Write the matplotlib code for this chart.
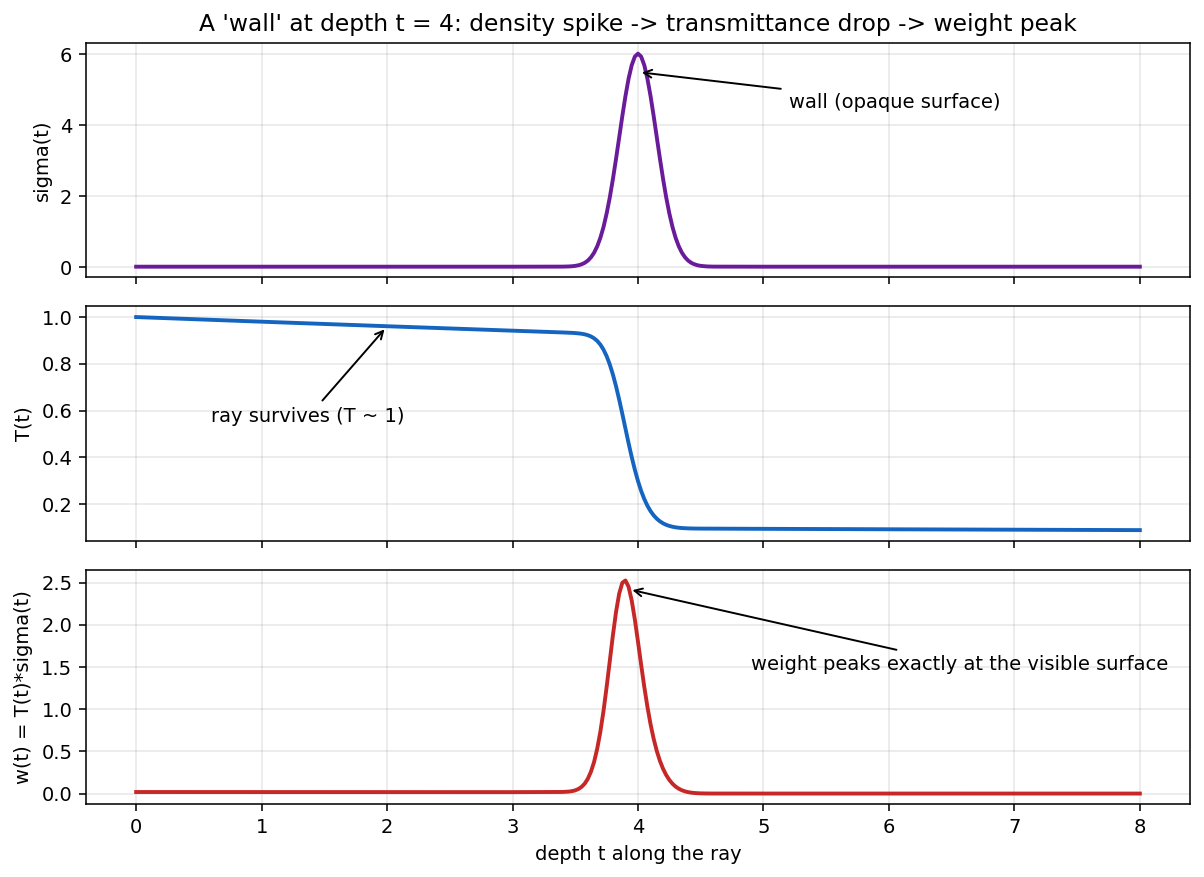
import matplotlib
matplotlib.use("Agg")
import matplotlib.pyplot as plt

# depth samples along the ray (dense around the wall at t = 4)
t = [0, 1, 2, 3, 3.4, 3.45, 3.475, 3.5, 3.525, 3.55, 3.575, 3.6, 3.625, 3.65,
     3.675, 3.7, 3.725, 3.75, 3.775, 3.8, 3.825, 3.85, 3.875, 3.9, 3.925,
     3.95, 3.975, 4.0, 4.025, 4.05, 4.075, 4.1, 4.125, 4.15, 4.175, 4.2,
     4.225, 4.25, 4.275, 4.3, 4.325, 4.35, 4.375, 4.4, 4.425, 4.45, 4.475,
     4.5, 4.55, 4.6, 5, 6, 7, 8]

# density sigma(t)
sigma = [0.02, 0.02, 0.02, 0.02, 0.022, 0.027, 0.033, 0.043, 0.060, 0.087,
         0.128, 0.191, 0.284, 0.414, 0.594, 0.832, 1.137, 1.517, 1.968, 2.487,
         3.058, 3.659, 4.260, 4.824, 5.315, 5.696, 5.937, 6.02, 5.937, 5.696,
         5.315, 4.824, 4.260, 3.659, 3.058, 2.487, 1.968, 1.517, 1.137, 0.832,
         0.594, 0.414, 0.284, 0.191, 0.128, 0.087, 0.060, 0.043, 0.027, 0.022,
         0.02, 0.02, 0.02, 0.02]

# transmittance T(t)
trans = [1.0, 0.9802, 0.9608, 0.9418, 0.9342, 0.9330, 0.9324, 0.9315, 0.9303,
         0.9287, 0.9262, 0.9225, 0.9171, 0.9092, 0.8980, 0.8822, 0.8609,
         0.8329, 0.7975, 0.7544, 0.7040, 0.6473, 0.5863, 0.5233, 0.4609,
         0.4015, 0.3471, 0.2988, 0.2572, 0.2223, 0.1937, 0.1706, 0.1523,
         0.1379, 0.1268, 0.1183, 0.1119, 0.1072, 0.1037, 0.1012, 0.0994,
         0.0982, 0.0974, 0.0968, 0.0964, 0.0961, 0.0960, 0.0958, 0.0957,
         0.0956, 0.0948, 0.0929, 0.0911, 0.0893]

# weight w(t)
weight = [0.02, 0.0196, 0.0192, 0.0188, 0.0206, 0.0252, 0.0308, 0.0401, 0.0558,
          0.0808, 0.1185, 0.1762, 0.2605, 0.3764, 0.5334, 0.7340, 0.9788,
          1.2635, 1.5696, 1.8762, 2.1527, 2.3685, 2.4975, 2.5244, 2.4497,
          2.2869, 2.0606, 1.7988, 1.5272, 1.2662, 1.0295, 0.8230, 0.6487,
          0.5046, 0.3878, 0.2942, 0.2203, 0.1626, 0.1179, 0.0842, 0.0591,
          0.0407, 0.0276, 0.0185, 0.0123, 0.0084, 0.0058, 0.0041, 0.0026,
          0.0021, 0.0019, 0.0019, 0.0018, 0.0018]

fig, axes = plt.subplots(3, 1, sharex=True, figsize=(1204 / 140, 877 / 140), dpi=140)
fig.subplots_adjust(left=0.0714, right=0.9884, top=0.951, bottom=0.083, hspace=0.124)

ax = axes[0]
ax.plot(t, sigma, color='#6a1b9a', lw=2)
ax.set_ylabel('sigma(t)')
ax.set_yticks([0, 2, 4, 6])
ax.set_title("A 'wall' at depth t = 4: density spike -> transmittance drop -> weight peak")
ax.annotate('wall (opaque surface)', xy=(4.0, 5.5), xytext=(5.2, 4.5),
            arrowprops=dict(arrowstyle='->', color='black', lw=1))

ax = axes[1]
ax.plot(t, trans, color='#1565c0', lw=2)
ax.set_ylabel('T(t)')
ax.set_yticks([0.2, 0.4, 0.6, 0.8, 1.0])
ax.annotate('ray survives (T ~ 1)', xy=(2.0, 0.96), xytext=(0.6, 0.55),
            arrowprops=dict(arrowstyle='->', color='black', lw=1))

ax = axes[2]
ax.plot(t, weight, color='#c62828', lw=2)
ax.set_ylabel('w(t) = T(t)*sigma(t)')
ax.set_yticks([0, 0.5, 1.0, 1.5, 2.0, 2.5])
ax.set_xlabel('depth t along the ray')
ax.annotate('weight peaks exactly at the visible surface', xy=(3.925, 2.42), xytext=(4.9, 1.47),
            arrowprops=dict(arrowstyle='->', color='black', lw=1))

for ax in axes:
    ax.grid(True, alpha=0.3)

fig.savefig('out.png', dpi=140)
